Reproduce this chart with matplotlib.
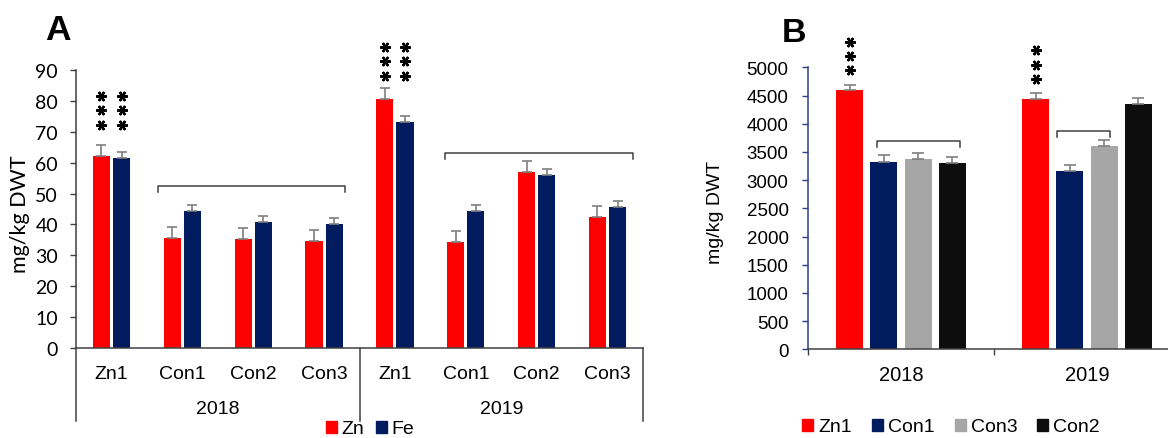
import matplotlib
matplotlib.use("Agg")
import matplotlib.pyplot as plt
import numpy as np
from matplotlib.patches import Patch
from matplotlib.transforms import blended_transform_factory, offset_copy

# ---------------- data ----------------
# Panel A: grain Zn and Fe (mg/kg DWT), four lines in two seasons
years = ["2018", "2019"]
lines_a = ["Zn1", "Con1", "Con2", "Con3"]
zn_mean = [62.3, 35.6, 35.3, 34.7, 80.6, 34.3, 57.0, 42.4]
zn_err = [3.5, 3.5, 3.4, 3.5, 3.6, 3.6, 3.6, 3.6]
fe_mean = [61.6, 44.2, 40.8, 40.3, 73.1, 44.4, 55.9, 45.7]
fe_err = [1.9, 2.0, 1.9, 1.9, 2.0, 1.9, 1.9, 1.9]
stars_zn = ["***", "", "", "", "***", "", "", ""]
stars_fe = ["***", "", "", "", "***", "", "", ""]

# Panel B: content (mg/kg DWT) per line and season
lines_b = ["Zn1", "Con1", "Con3", "Con2"]
zn1_b = [4600, 4440]
con1_b = [3325, 3160]
con3_b = [3375, 3610]
con2_b = [3305, 4350]
zn1_b_err = [95, 97]
con1_b_err = [113, 107]
con3_b_err = [105, 101]
con2_b_err = [111, 112]
stars_b = ["***", "***"]

# ---------------- style ----------------
RED = "#FF0000"
NAVY = "#001B5E"
GREY = "#A6A6A6"
BLACK = "#0D0D0D"
ERR = "#7F7F7F"
AXC = "#404040"
BAXIS = "#2F3E8C"

W, H = 1168, 439
fig = plt.figure(figsize=(W / 100, H / 100), dpi=100)


def fx(px):
    return px / W


def fy(py):
    return 1 - py / H


arial = "Liberation Sans"
calib = "Lato"

# ================= Panel A =================
axA = fig.add_axes([fx(76), fy(349), fx(643) - fx(76), fy(71) - fy(349)])
n = len(zn_mean)
centers = np.arange(n) + 0.5
off, bw = 0.142, 0.24
zn_x = centers - off
fe_x = centers + off

axA.bar(zn_x, zn_mean, bw, color=RED, zorder=2)
axA.bar(fe_x, fe_mean, bw, color=NAVY, zorder=2)
for xs, m, e in ((zn_x, zn_mean, zn_err), (fe_x, fe_mean, fe_err)):
    axA.errorbar(xs, m, yerr=[np.zeros(n), e], fmt="none", ecolor=ERR,
                 elinewidth=1.2, capsize=3.4, capthick=1.2, zorder=3)

axA.set_xlim(0, n)
axA.set_ylim(0, 90)
axA.set_yticks(np.arange(0, 91, 10))
axA.tick_params(axis="y", direction="out", length=4.5, width=1, color=AXC,
                pad=8.5, labelsize=14)
for t in axA.get_yticklabels():
    t.set_fontfamily(calib)
axA.set_xticks(centers, lines_a * len(years))
axA.tick_params(axis="x", length=0, pad=12.5, labelsize=14)
for t in axA.get_xticklabels():
    t.set_fontfamily(arial)
for s in ("top", "right"):
    axA.spines[s].set_visible(False)
for s in ("left", "bottom"):
    axA.spines[s].set_color(AXC)
    axA.spines[s].set_linewidth(1.1)

# multi-level category separators and season labels
trA = blended_transform_factory(axA.transData, axA.transAxes)
drop = -73 / 278
for xb in (0, 4, 8):
    axA.plot([xb, xb], [0, drop], transform=trA, color=AXC, lw=1.1,
             clip_on=False)
for i, yr in enumerate(years):
    axA.text(2 + 4 * i, -61 / 278, yr, transform=trA, ha="center",
             va="center", fontsize=14, fontfamily=arial)

# brackets over the control lines
for (x0, x1, lev, dropv) in ((1.16, 3.79, 52.3, 1.9), (5.2, 7.86, 63.2, 2.0)):
    axA.plot([x0, x0, x1, x1], [lev - dropv, lev, lev, lev - dropv],
             color=AXC, lw=1.1, zorder=3)

# significance stars, stacked above the Zn1 pair of each season
star_gap_a = [20, 12]
zn_top = np.add(zn_mean, zn_err)
fe_top = np.add(fe_mean, fe_err)
for xs, st in ((zn_x, stars_zn), (fe_x, stars_fe)):
    for i, s in enumerate(st):
        if not s:
            continue
        g = i // 4
        top = max(zn_top[i], fe_top[i])
        for k in range(len(s)):
            tr = offset_copy(axA.transData, fig, x=0,
                             y=star_gap_a[g] + 14.5 * k, units="dots")
            axA.plot(xs[i], top, marker=(6, 2, 30), ms=7.4, mew=1.7,
                     color="black", transform=tr, clip_on=False, zorder=4)

fig.text(fx(20), fy(214), "mg/kg DWT", rotation=90, ha="center",
         va="center", fontsize=15.5, fontfamily=calib)
fig.text(fx(58), fy(31), "A", ha="center", va="center", fontsize=25.5,
         fontweight="bold", fontfamily=arial)

fig.legend(handles=[Patch(color=RED), Patch(color=NAVY)], labels=["Zn", "Fe"],
           ncol=2, loc="center", bbox_to_anchor=(fx(370), fy(430)),
           frameon=False, borderpad=0, handlelength=0.57, handleheight=0.57,
           handletextpad=0.22, columnspacing=0.6,
           prop={"family": arial, "size": 14})

# ================= Panel B =================
axB = fig.add_axes([fx(808), fy(350.3), 372 / W, fy(68.3) - fy(350.3)])
gcent = np.arange(len(years)) + 0.5
pitch, bwb = 0.183, 0.145
series_b = [(zn1_b, zn1_b_err, RED), (con1_b, con1_b_err, NAVY),
            (con3_b, con3_b_err, GREY), (con2_b, con2_b_err, BLACK)]
xs_b = []
for j, (m, e, c) in enumerate(series_b):
    xs = gcent + (j - 1.5) * pitch
    xs_b.append(xs)
    axB.bar(xs, m, bwb, color=c, zorder=2)
    axB.errorbar(xs, m, yerr=[np.zeros(len(m)), e], fmt="none", ecolor=ERR,
                 elinewidth=1.2, capsize=4.2, capthick=1.2, zorder=3)

axB.set_xlim(0, len(years))
axB.set_ylim(0, 5000)
axB.set_yticks(np.arange(0, 5001, 500))
axB.tick_params(axis="y", direction="out", length=4, width=1, color=BAXIS,
                pad=10, labelsize=13.5)
axB.set_xticks([0, 1, 2])
axB.set_xticklabels([])
axB.set_xticks(gcent, years, minor=True)
axB.tick_params(axis="x", which="major", direction="out", length=4,
                width=1, color=AXC)
axB.tick_params(axis="x", which="minor", length=0, pad=11.5, labelsize=14.5)
for t in axB.get_yticklabels() + axB.get_xticklabels(minor=True):
    t.set_fontfamily(arial)
for s in ("top", "right"):
    axB.spines[s].set_visible(False)
axB.spines["left"].set_color(BAXIS)
axB.spines["bottom"].set_color(AXC)
axB.spines["left"].set_linewidth(1.1)
axB.spines["bottom"].set_linewidth(1.1)

# brackets
for (x0, x1, lev, dropv) in ((0.371, 0.817, 3700, 115), (1.339, 1.624, 3865, 105)):
    axB.plot([x0, x0, x1, x1], [lev - dropv, lev, lev, lev - dropv],
             color=AXC, lw=1.1, zorder=3)

# stars above Zn1
for i, s in enumerate(stars_b):
    top = zn1_b[i] + zn1_b_err[i]
    for k in range(len(s)):
        tr = offset_copy(axB.transData, fig, x=0, y=14.6 + 14.2 * k,
                         units="dots")
        axB.plot(xs_b[0][i], top, marker=(6, 2, 30), ms=7.4, mew=1.7,
                 color="black", transform=tr, clip_on=False, zorder=4)

fig.text(fx(716), fy(212), "mg/kg DWT", rotation=90, ha="center",
         va="center", fontsize=14, fontfamily=arial)
fig.text(fx(793.5), fy(33.5), "B", ha="center", va="center", fontsize=24.5,
         fontweight="bold", fontfamily=arial)

fig.legend(handles=[Patch(color=c) for _, _, c in series_b], labels=lines_b,
           ncol=4, loc="center", bbox_to_anchor=(fx(951), fy(428)),
           frameon=False, borderpad=0, handlelength=0.57, handleheight=0.57,
           handletextpad=0.26, columnspacing=1.03,
           prop={"family": arial, "size": 14})

fig.savefig("out.png", dpi=100)
